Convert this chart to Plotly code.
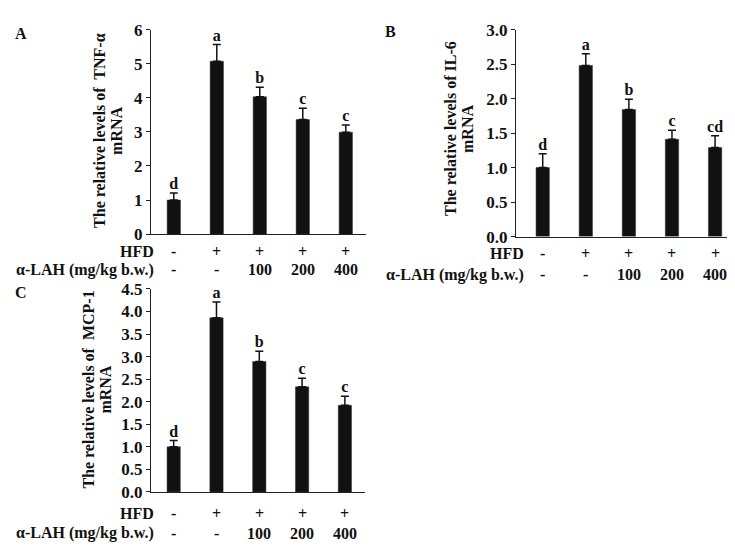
import plotly.graph_objects as go

# ---------------- data ----------------
groups = [0, 1, 2, 3, 4]
hfd_marks = ["-", "+", "+", "+", "+"]
lah_marks = ["-", "-", "100", "200", "400"]

tnf_mean = [1.0, 5.07, 4.03, 3.36, 2.99]
tnf_err = [0.21, 0.49, 0.28, 0.33, 0.21]
tnf_sig = ["d", "a", "b", "c", "c"]

il6_mean = [1.0, 2.48, 1.84, 1.41, 1.29]
il6_err = [0.20, 0.17, 0.15, 0.13, 0.17]
il6_sig = ["d", "a", "b", "c", "cd"]

mcp_mean = [1.0, 3.86, 2.89, 2.33, 1.92]
mcp_err = [0.14, 0.35, 0.23, 0.19, 0.20]
mcp_sig = ["d", "a", "b", "c", "c"]

W, H = 735, 548
FONT = "Liberation Serif"


def fx(px):
    return px / W


def fy(py):
    return 1 - py / H


panels = [
    dict(key="", mean=tnf_mean, err=tnf_err, sig=tnf_sig, letter="A",
         title1="The relative levels of  TNF-α", title2="mRNA",
         x0=143, x1=358, y0=13, y1=225, xr=[-0.53, 4.47], yr=[0, 6], dtick=1, fmt="d",
         t1x=92, t2x=109, ty=118, lx=13, ly=17, hfd_y=243, lah_y=262, lab_r=148),
    dict(key="2", mean=il6_mean, err=il6_err, sig=il6_sig, letter="B",
         title1="The relative levels of IL-6", title2="mRNA",
         x0=508, x1=720, y0=13, y1=227.5, xr=[-0.62, 4.3], yr=[0, 3], dtick=0.5, fmt=".1f",
         t1x=443, t2x=460, ty=116, lx=383, ly=15, hfd_y=245, lah_y=267, lab_r=518),
    dict(key="3", mean=mcp_mean, err=mcp_err, sig=mcp_sig, letter="C",
         title1="The relative levels of  MCP-1", title2="mRNA",
         x0=143, x1=357, y0=281.7, y1=492, xr=[-0.53, 4.47], yr=[0, 4.5], dtick=0.5, fmt=".1f",
         t1x=81, t2x=98, ty=386, lx=13, ly=285, hfd_y=514, lah_y=535, lab_r=148),
]

fig = go.Figure()
annotations = []
layout_axes = {}

for p in panels:
    k = p["key"]
    xa = "x" + k
    ya = "y" + k
    fig.add_trace(go.Bar(
        x=groups, y=p["mean"], xaxis=xa, yaxis=ya, width=0.31,
        marker=dict(color="#111111", line=dict(color="#333333", width=0.5)),
        error_y=dict(type="data", array=p["err"], arrayminus=[0] * 5, symmetric=False,
                     color="#111111", thickness=1.5, width=4),
        showlegend=False, hoverinfo="skip"))
    fig.add_trace(go.Scatter(
        x=groups, y=[m + e for m, e in zip(p["mean"], p["err"])], xaxis=xa, yaxis=ya,
        mode="text", text=p["sig"], textposition="top center",
        textfont=dict(family=FONT, size=16, color="#111111", weight="bold"),
        showlegend=False, hoverinfo="skip", cliponaxis=False))

    layout_axes["xaxis" + k] = dict(
        domain=[fx(p["x0"]), fx(p["x1"])], range=p["xr"], anchor=ya,
        showline=True, linecolor="#222222", linewidth=1.2, ticks="",
        showticklabels=False, showgrid=False, zeroline=False, fixedrange=True)
    layout_axes["yaxis" + k] = dict(
        domain=[fy(p["y1"]), fy(p["y0"])], range=p["yr"], anchor=xa,
        dtick=p["dtick"], tick0=0, tickformat=p["fmt"],
        showline=True, linecolor="#222222", linewidth=1.2,
        ticks="outside", ticklen=4, tickwidth=1, tickcolor="#222222",
        tickfont=dict(family=FONT, size=17, color="#111111", weight="bold"),
        showgrid=False, zeroline=False, fixedrange=True)

    tf = dict(family=FONT, size=16, color="#111111", weight="bold")
    ttf = dict(family=FONT, size=16, color="#111111", weight="bold")
    annotations.append(dict(xref="paper", yref="paper", x=fx(p["t1x"]), y=fy(p["ty"]),
                            text=p["title1"], textangle=-90, showarrow=False,
                            xanchor="center", yanchor="middle", font=ttf))
    annotations.append(dict(xref="paper", yref="paper", x=fx(p["t2x"]), y=fy(p["ty"]),
                            text=p["title2"], textangle=-90, showarrow=False,
                            xanchor="center", yanchor="middle", font=ttf))
    annotations.append(dict(xref="paper", yref="paper", x=fx(p["lx"]), y=fy(p["ly"]),
                            text=p["letter"], showarrow=False,
                            xanchor="center", yanchor="middle", font=tf))
    annotations.append(dict(xref="paper", yref="paper", x=fx(p["lab_r"]), y=fy(p["hfd_y"]),
                            text="HFD", showarrow=False,
                            xanchor="right", yanchor="middle", font=tf))
    annotations.append(dict(xref="paper", yref="paper", x=fx(p["lab_r"]), y=fy(p["lah_y"]),
                            text="α-LAH (mg/kg b.w.)", showarrow=False,
                            xanchor="right", yanchor="middle", font=tf))
    for g, hm, lm in zip(groups, hfd_marks, lah_marks):
        annotations.append(dict(xref=xa, yref="paper", x=g, y=fy(p["hfd_y"]),
                                text=hm, showarrow=False,
                                xanchor="center", yanchor="middle", font=tf))
        annotations.append(dict(xref=xa, yref="paper", x=g, y=fy(p["lah_y"]),
                                text=lm, showarrow=False,
                                xanchor="center", yanchor="middle", font=tf))

fig.update_layout(
    width=W, height=H,
    margin=dict(l=0, r=0, t=0, b=0),
    paper_bgcolor="white", plot_bgcolor="white",
    annotations=annotations,
    **layout_axes,
)

fig.write_html("out.html")
